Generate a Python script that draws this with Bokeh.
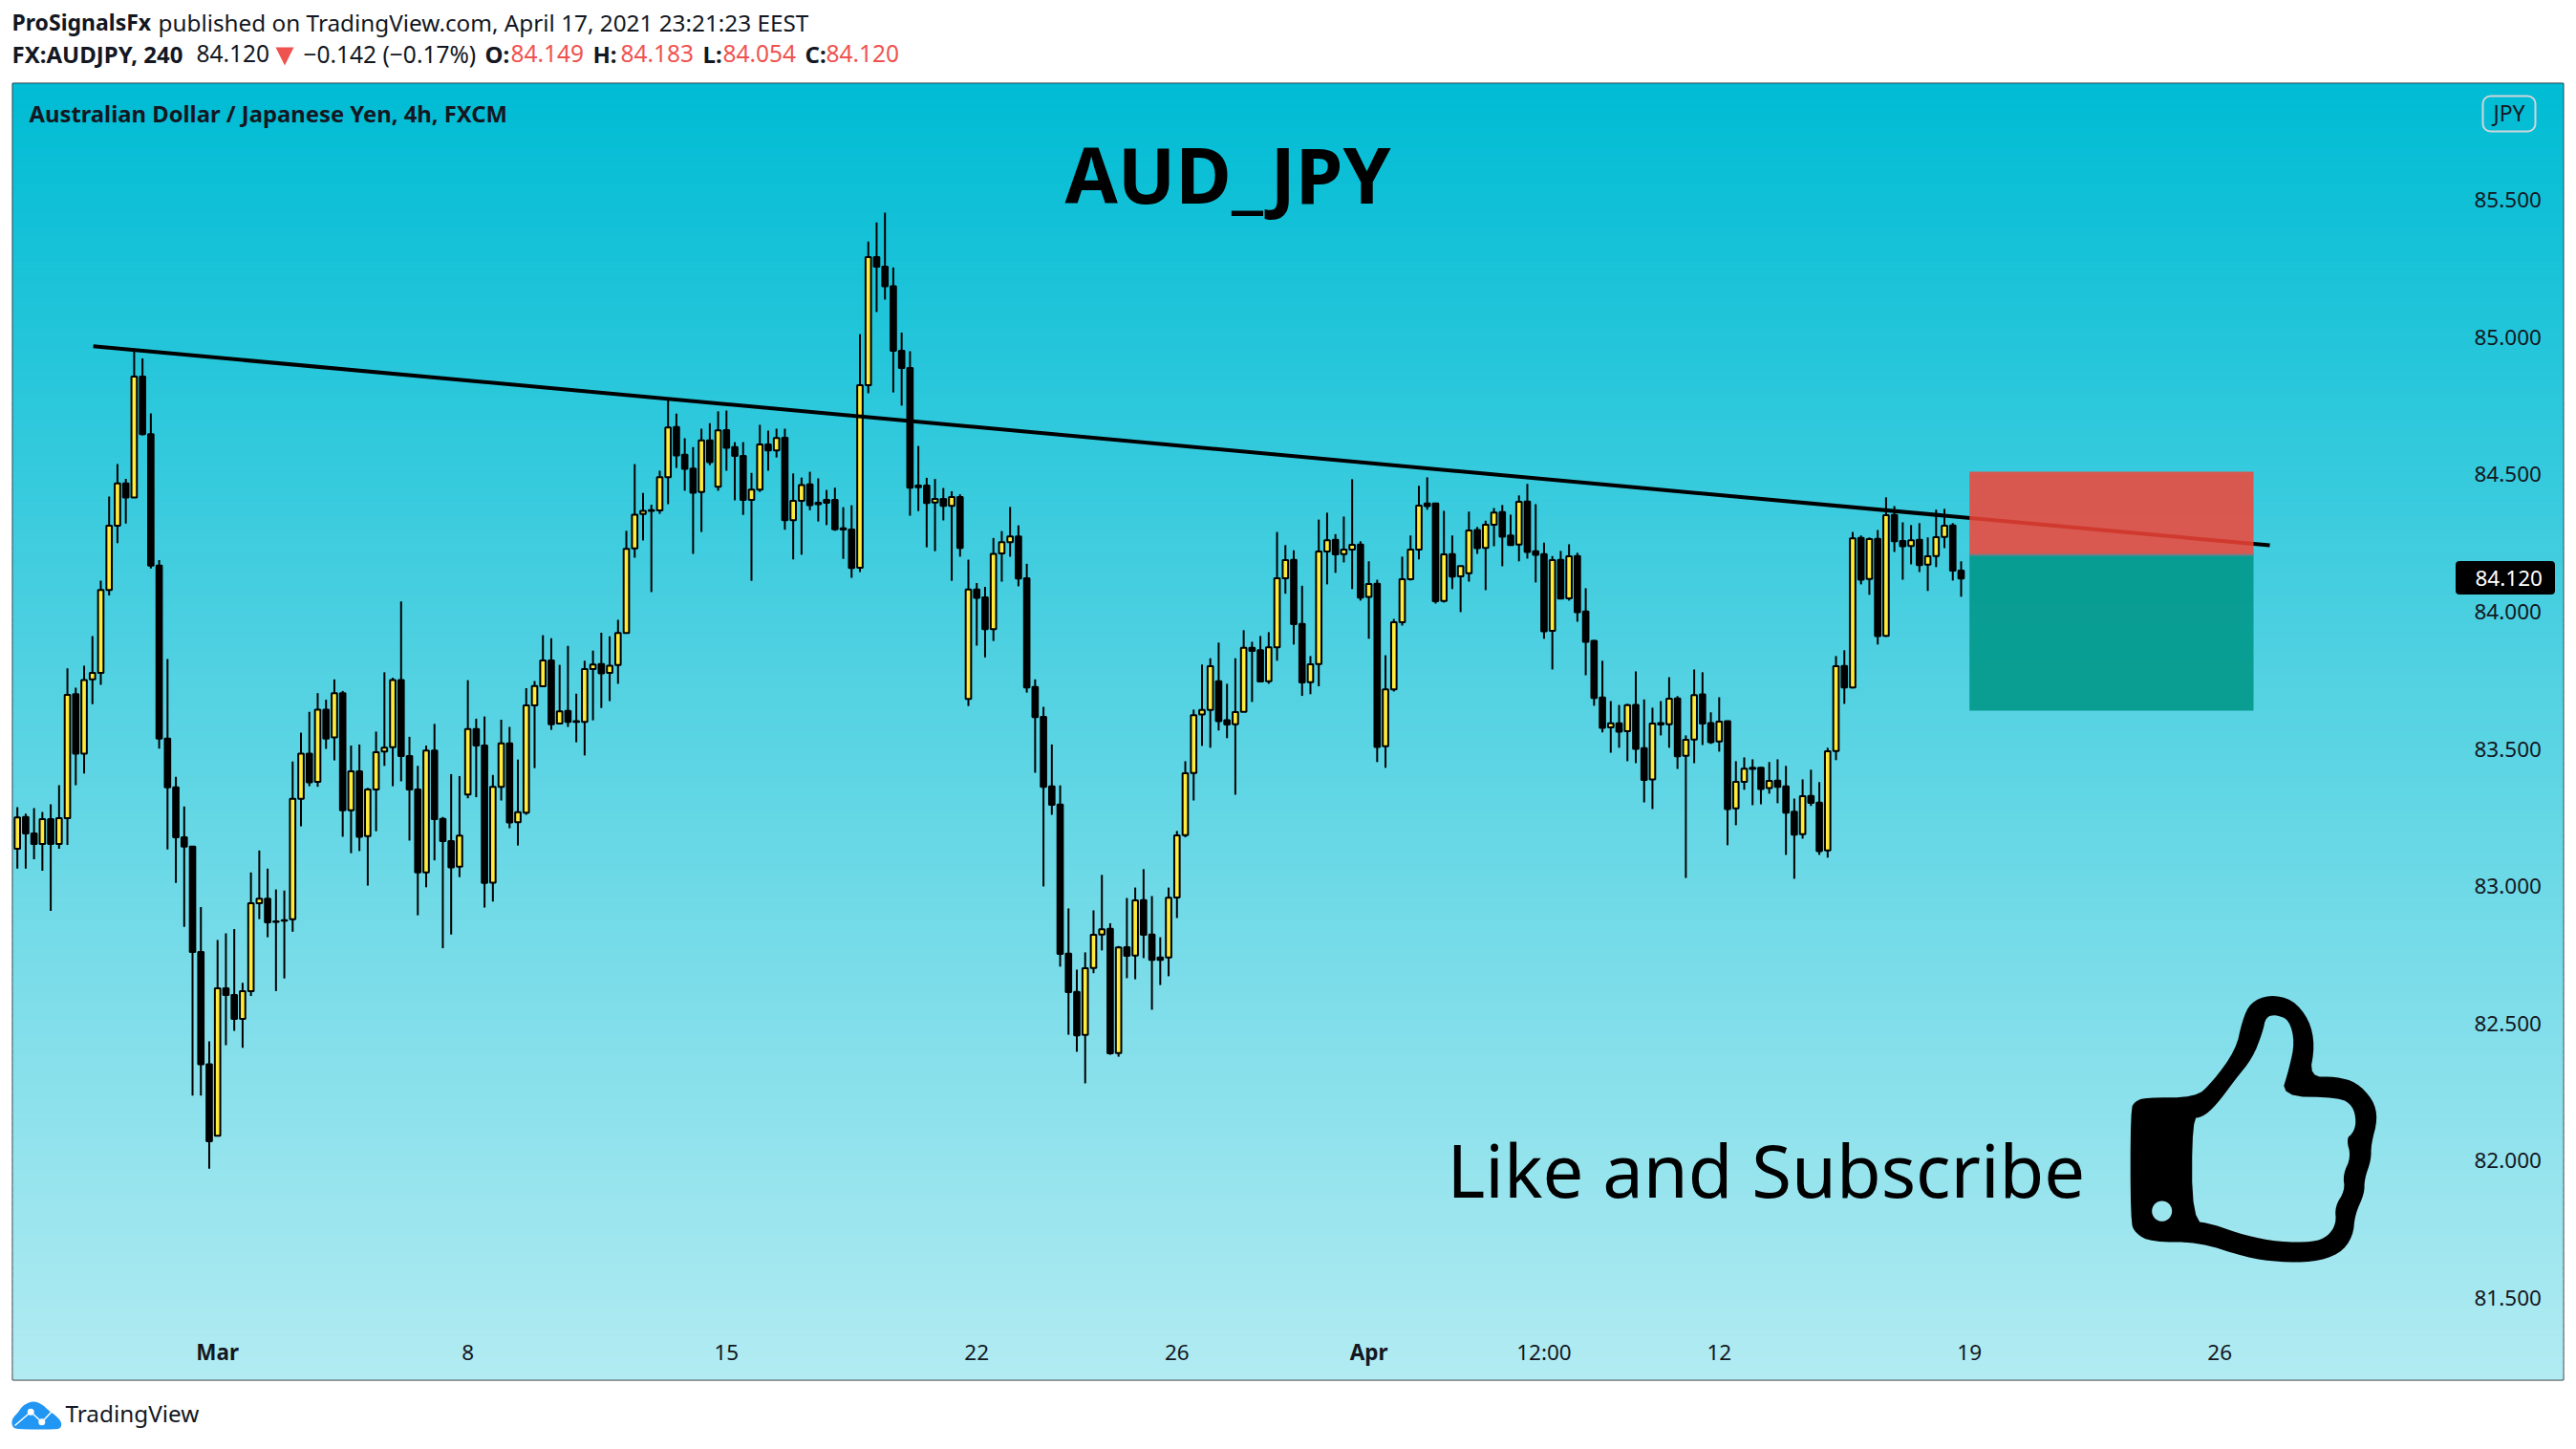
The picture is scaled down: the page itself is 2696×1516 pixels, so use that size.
from bokeh.plotting import figure
from bokeh.layouts import column
from bokeh.embed import file_html
from bokeh.resources import INLINE
from bokeh.models import Label, FixedTicker, LinearAxis, BoxAnnotation, NumeralTickFormatter
import numpy as np

open_ = [
83.136,83.252,83.192,83.154,83.244,83.154,83.248,83.699,83.483,83.753,
83.777,84.079,84.313,84.467,84.415,84.856,84.646,84.167,83.537,83.360,
83.178,83.144,82.760,82.351,82.091,82.628,82.604,82.517,82.618,82.938,
82.954,82.872,82.876,82.880,83.318,83.483,83.380,83.643,83.542,83.703,
83.276,83.418,83.182,83.352,83.490,83.506,83.751,83.474,83.352,83.050,
83.494,83.245,83.164,83.071,83.334,83.572,83.512,83.013,83.362,83.520,
83.233,83.268,83.658,83.728,83.822,83.592,83.638,83.601,83.598,83.791,
83.809,83.777,83.805,83.922,84.230,84.355,84.369,84.368,84.489,84.672,
84.571,84.521,84.435,84.623,84.455,84.661,84.599,84.567,84.407,84.444,
84.609,84.587,84.633,84.333,84.403,84.463,84.396,84.407,84.407,84.303,
84.299,84.160,84.824,85.291,85.256,85.185,84.950,84.887,84.459,84.459,
84.397,84.410,84.385,84.417,83.682,84.080,84.052,83.936,84.212,84.253,
84.274,84.121,83.725,83.617,83.363,83.297,82.754,82.615,82.458,82.702,
82.824,82.845,82.392,82.778,82.747,82.949,82.824,82.740,82.740,82.959,
83.186,83.412,83.625,83.642,83.746,83.604,83.590,83.635,83.868,83.859,
83.746,83.870,84.121,84.188,83.955,83.743,83.809,84.219,84.261,84.209,
84.226,84.244,84.053,84.101,83.510,83.717,83.961,84.118,84.226,84.394,
84.394,84.039,84.209,84.128,84.140,84.297,84.232,84.316,84.362,84.277,
84.244,84.401,84.220,84.209,83.930,84.188,84.048,84.202,84.000,83.893,
83.687,83.578,83.593,83.564,83.660,83.503,83.389,83.594,83.590,83.684,
83.475,83.534,83.698,83.594,83.527,83.601,83.283,83.380,83.431,83.431,
83.357,83.384,83.363,83.271,83.189,83.329,83.304,83.130,83.492,83.802,
83.724,84.268,84.119,84.265,83.912,84.352,84.257,84.239,84.261,84.171,
84.202,84.272,84.314,84.149]

close = [
83.250,83.192,83.154,83.244,83.154,83.248,83.697,83.483,83.751,83.777,
84.079,84.313,84.467,84.415,84.856,84.646,84.167,83.537,83.360,83.178,
83.144,82.760,82.351,82.071,82.628,82.604,82.517,82.618,82.938,82.954,
82.868,82.870,82.874,83.318,83.483,83.378,83.643,83.537,83.703,83.276,
83.418,83.180,83.352,83.488,83.504,83.751,83.474,83.352,83.050,83.494,
83.244,83.164,83.068,83.184,83.572,83.512,83.012,83.362,83.520,83.232,
83.269,83.658,83.729,83.822,83.590,83.637,83.598,83.598,83.791,83.807,
83.775,83.803,83.922,84.228,84.353,84.367,84.367,84.489,84.670,84.569,
84.520,84.433,84.623,84.544,84.660,84.596,84.567,84.407,84.444,84.609,
84.587,84.632,84.333,84.403,84.461,84.388,84.391,84.396,84.300,84.299,
84.159,84.824,85.291,85.256,85.185,84.950,84.887,84.451,84.453,84.395,
84.410,84.385,84.417,84.232,84.080,84.050,83.936,84.210,84.253,84.274,
84.120,83.724,83.616,83.362,83.296,82.753,82.614,82.457,82.701,82.823,
82.843,82.391,82.777,82.746,82.948,82.823,82.732,82.732,82.958,83.185,
83.411,83.623,83.642,83.801,83.601,83.589,83.634,83.868,83.857,83.745,
83.870,84.121,84.187,83.954,83.742,83.808,84.219,84.260,84.208,84.226,
84.243,84.051,84.100,83.507,83.717,83.961,84.118,84.226,84.386,84.384,
84.038,84.208,84.127,84.166,84.295,84.231,84.316,84.361,84.273,84.242,
84.400,84.217,84.207,83.928,84.187,84.047,84.201,83.998,83.890,83.685,
83.577,83.593,83.563,83.659,83.500,83.387,83.592,83.589,83.683,83.473,
83.533,83.696,83.592,83.524,83.599,83.281,83.380,83.428,83.427,83.354,
83.383,83.362,83.268,83.188,83.328,83.303,83.128,83.491,83.801,83.724,
84.267,84.116,84.264,83.911,84.351,84.256,84.238,84.260,84.169,84.201,
84.271,84.313,84.149,84.120]

high = [
83.288,83.264,83.284,83.270,83.298,83.368,83.793,83.723,83.803,83.911,
84.113,84.419,84.537,84.483,84.952,84.922,84.722,84.187,83.827,83.398,
83.290,83.144,82.924,82.435,82.804,82.828,82.844,82.648,83.050,83.130,
83.064,82.988,82.984,83.454,83.559,83.635,83.703,83.679,83.753,83.711,
83.512,83.516,83.358,83.563,83.779,83.759,84.037,83.544,83.438,83.512,
83.591,83.252,83.408,83.401,83.750,83.610,83.618,83.405,83.606,83.580,
83.461,83.721,83.747,83.914,83.903,83.806,83.875,83.701,83.821,83.858,
83.923,83.910,83.970,84.294,84.537,84.432,84.389,84.513,84.773,84.721,
84.631,84.599,84.666,84.686,84.729,84.732,84.617,84.617,84.505,84.680,
84.659,84.666,84.666,84.503,84.488,84.509,84.485,84.443,84.451,84.380,
84.387,85.010,85.347,85.417,85.453,85.253,85.016,84.948,84.603,84.487,
84.483,84.450,84.438,84.427,84.189,84.104,84.090,84.268,84.293,84.381,
84.314,84.174,83.753,83.653,83.516,83.367,82.919,82.696,82.759,82.912,
83.041,82.865,82.782,82.957,82.995,83.062,82.964,82.814,82.995,83.201,
83.455,83.643,83.807,83.830,83.887,83.737,83.830,83.932,83.890,83.911,
83.925,84.290,84.242,84.223,84.094,83.838,84.335,84.360,84.282,84.346,
84.482,84.256,84.183,84.116,83.841,83.973,84.200,84.277,84.458,84.489,
84.394,84.367,84.277,84.166,84.364,84.308,84.331,84.377,84.388,84.353,
84.423,84.465,84.391,84.251,84.202,84.221,84.245,84.214,84.085,83.897,
83.821,83.674,83.660,83.664,83.782,83.680,83.650,83.674,83.761,83.692,
83.549,83.789,83.779,83.633,83.688,83.601,83.455,83.469,83.462,83.434,
83.452,83.462,83.438,83.319,83.389,83.424,83.379,83.504,83.838,83.859,
84.290,84.277,84.270,84.297,84.416,84.384,84.325,84.315,84.322,84.270,
84.371,84.374,84.322,84.183]

low = [
83.064,83.064,83.098,83.056,82.910,83.136,83.150,83.368,83.410,83.663,
83.733,84.059,84.249,84.321,84.415,84.642,84.157,83.501,83.134,83.012,
82.852,82.237,82.237,81.971,82.091,82.421,82.473,82.411,82.600,82.880,
82.814,82.618,82.664,82.834,83.218,83.364,83.362,83.500,83.458,83.180,
83.120,83.128,83.002,83.200,83.438,83.364,83.382,83.166,82.894,82.996,
83.094,82.774,82.824,83.033,83.320,83.324,82.922,82.944,83.312,83.211,
83.148,83.260,83.430,83.728,83.569,83.592,83.580,83.524,83.476,83.604,
83.649,83.674,83.737,83.922,84.196,84.259,84.071,84.356,84.391,84.523,
84.440,84.210,84.290,84.533,84.440,84.513,84.405,84.352,84.112,84.436,
84.513,84.561,84.298,84.190,84.207,84.369,84.328,84.315,84.294,84.192,
84.123,84.144,84.795,85.091,85.136,84.798,84.750,84.349,84.366,84.234,
84.220,84.332,84.112,84.200,83.656,83.876,83.833,83.893,84.109,84.200,
84.092,83.705,83.413,82.999,83.260,82.707,82.459,82.397,82.282,82.683,
82.766,82.386,82.379,82.665,82.661,82.738,82.550,82.640,82.672,82.884,
83.178,83.312,83.511,83.504,83.567,83.539,83.333,83.635,83.671,83.745,
83.737,83.821,84.065,83.880,83.693,83.699,83.728,84.099,84.141,84.179,
84.082,84.040,83.901,83.452,83.431,83.709,83.949,84.113,84.190,84.371,
84.029,84.033,84.082,83.998,84.109,84.210,84.078,84.238,84.165,84.242,
84.183,84.193,84.106,83.901,83.789,84.047,84.040,83.963,83.768,83.657,
83.560,83.486,83.504,83.455,83.448,83.305,83.281,83.549,83.504,83.427,
83.030,83.448,83.514,83.518,83.490,83.149,83.222,83.351,83.295,83.298,
83.337,83.302,83.114,83.027,83.173,83.292,83.114,83.104,83.459,83.664,
83.720,84.099,84.061,83.880,83.908,84.217,84.116,84.172,84.144,84.075,
84.162,84.231,84.113,84.054]

price_ticks = [81.5, 82.0, 82.5, 83.0, 83.5, 84.0, 84.5, 85.0, 85.5]
plain_time_ticks = {54: "8", 85: "15", 115: "22", 139: "26", 183: "12:00", 204: "12", 234: "19", 264: "26"}
bold_time_ticks = {24: "Mar", 162: "Apr"}
trend_bar = [9.1, 270.0]
trend_price = [84.966, 84.241]
stop_zone = [84.509, 84.207]
target_zone = [84.207, 83.639]
zone_bars = [234.0, 268.05]
last_price = 84.120

FONT = "Noto Sans"
DARK = "#131722"
RED = "#EF5350"

W = 2690
L, R, T, B = 13, 2682, 87, 1443
H_TOTAL = 1510
BAR0, BARSTEP = 17.67, 8.731
Y845, YPP = 495.7, 287.3
def bx(px):  # page x pixel -> bar index
    return (px - BAR0) / BARSTEP
def py(px):  # page y pixel -> price
    return 84.5 - (px - Y845) / YPP

p = figure(frame_width=R - L, frame_height=B - T,
           x_range=(bx(L), bx(R)), y_range=(py(B), py(T)),
           output_backend="svg", toolbar_location=None,
           y_axis_location="right", frame_align=False,
           min_border_left=L, min_border_right=W - R,
           min_border_top=2, min_border_bottom=2,
           background_fill_color="#B2EBF2", border_fill_color="white",
           outline_line_color="#2A2E39", outline_line_width=2)
p.grid.visible = False

# gradient background
n = 180
edges = np.linspace(py(T), py(B), n + 1)
t = np.linspace(0, 1, n)
top_c, bot_c = np.array([0, 188, 212]), np.array([178, 235, 242])
cols = ["#%02x%02x%02x" % tuple(int(round(v)) for v in (top_c + (bot_c - top_c) * f)) for f in t]
p.quad(left=bx(L), right=bx(R), top=edges[:-1], bottom=edges[1:], fill_color=cols, line_color=cols, line_width=1)

# candles
idx = np.arange(len(open_))
o, c, h, l = map(np.array, (open_, close, high, low))
up = c >= o
p.segment(idx, h, idx, l, line_color="black", line_width=2)
p.vbar(idx[~up], 0.65, o[~up], c[~up], fill_color="black", line_color="black", line_width=2)
p.vbar(idx[up], 0.65, c[up], o[up], fill_color="#FFEB3B", line_color="black", line_width=2)

# trend line + zones
p.line(trend_bar, trend_price, line_color="black", line_width=4)
p.quad(left=zone_bars[0], right=zone_bars[1], top=stop_zone[0], bottom=stop_zone[1],
       fill_color="#F44336", fill_alpha=0.85, line_color=None)
p.quad(left=zone_bars[0], right=zone_bars[1], top=target_zone[0], bottom=target_zone[1],
       fill_color="#009688", fill_alpha=0.88, line_color=None)
p.segment(zone_bars[0], stop_zone[1], zone_bars[1], stop_zone[1], line_color="#787B86", line_width=2)

# axes drawn inside the pane
ya = p.yaxis[0]
ya.ticker = FixedTicker(ticks=price_ticks)
ya.formatter = NumeralTickFormatter(format="0.000")
ya.axis_line_color = None
ya.major_tick_line_color = None
ya.minor_tick_line_color = None
ya.major_label_standoff = -99
ya.major_label_text_font = FONT
ya.major_label_text_font_size = "22.5px"
ya.major_label_text_color = DARK

def style_x(ax, ticks, bold):
    ax.ticker = FixedTicker(ticks=list(ticks))
    ax.major_label_overrides = dict(ticks)
    ax.axis_line_color = None
    ax.major_tick_line_color = None
    ax.minor_tick_line_color = None
    ax.major_label_standoff = -51
    ax.major_label_text_font = FONT
    ax.major_label_text_font_size = "22.5px"
    ax.major_label_text_color = DARK
    ax.major_label_text_font_style = "bold" if bold else "normal"

style_x(p.xaxis[0], plain_time_ticks, False)
ax2 = LinearAxis()
style_x(ax2, bold_time_ticks, True)
p.add_layout(ax2, "below")

def label(fig, text, x, y, size, color=DARK, style="normal", align="left", baseline="middle", font=FONT):
    fig.add_layout(Label(x=x, y=y, text=text, text_font=font, text_font_size=f"{size}px",
                         text_color=color, text_font_style=style, text_align=align,
                         text_baseline=baseline))
def mlabel(text, x, y, size, **kw):
    label(p, text, bx(x), py(y), size, **kw)

mlabel("Australian Dollar / Japanese Yen, 4h, FXCM", 30, 118.5, 23.8, style="bold")
mlabel("AUD_JPY", 1114, 181, 80, color="black", style="bold")
mlabel("Like and Subscribe", 1514, 1223, 76, color="black")

# JPY badge
p.add_layout(BoxAnnotation(left=bx(2598), right=bx(2653), top=py(100), bottom=py(137), border_radius=8,
                           fill_alpha=0, line_color="#D1D4DC", line_alpha=1, line_width=2))
mlabel("JPY", 2625.5, 117, 23, align="center")

# last price tag
p.add_layout(BoxAnnotation(left=bx(2570), right=bx(2673), top=py(587), bottom=py(621), border_radius=3,
                           fill_color="black", fill_alpha=1, line_color="black", line_alpha=1))
p.segment(bx(2570), last_price, bx(2580), last_price, line_color="white", line_width=2, level="annotation")
mlabel("84.120", 2590, 604, 22.5, color="white")

def chaikin(pts, n=2):
    a = np.array(pts, float)
    for _ in range(n):
        b = np.roll(a, -1, axis=0)
        q = 0.75 * a + 0.25 * b
        r = 0.25 * a + 0.75 * b
        a = np.column_stack((q, r)).reshape(-1, 2)
    return a

# thumbs-up icon
thumb_outer = [(1090,443),(1165,443),(1190,395),(1225,295),(1235,200),(1247,145),(1275,120),(1310,135),
               (1335,200),(1343,280),(1335,378),(1375,378),(1405,395),(1430,450),(1437,510),(1427,590),
               (1427,640),(1417,700),(1417,745),(1403,810),(1400,880),(1380,935),(1340,960),(1290,960),
               (1240,945),(1170,897),(1100,897),(1075,870),(1068,830),(1068,480),(1075,455)]
thumb_inner = [(1160,508),(1175,505),(1195,470),(1225,385),(1250,320),(1265,240),(1270,190),(1285,183),
               (1305,200),(1313,270),(1305,350),(1292,440),(1380,443),(1400,470),(1405,520),(1400,555),
               (1390,572),(1397,630),(1385,685),(1388,735),(1373,785),(1375,840),(1362,880),(1340,897),
               (1290,897),(1240,877),(1190,840),(1160,830)]
def zx(a): return bx(1480 + a / 1.4255)
def zy(a): return py(1000 + a / 3)
o1 = chaikin(thumb_outer); i1 = chaikin(thumb_inner)
ang = np.linspace(0, 2 * np.pi, 32, endpoint=False)
dot_x = 1480 + 1115 / 1.4255 + 10.5 * np.cos(ang)
dot_y = 1000 + 800 / 3 + 10.7 * np.sin(ang)
p.multi_polygons(xs=[[[list(zx(o1[:, 0])), list(zx(i1[:, 0])), list(bx(dot_x))]]],
                 ys=[[[list(zy(o1[:, 1])), list(zy(i1[:, 1])), list(py(dot_y))]]],
                 fill_color="black", line_color=None)

def strip(h, y0):
    f = figure(width=W, height=h, x_range=(0, W), y_range=(y0 + h, y0),
               x_axis_location=None, y_axis_location=None, toolbar_location=None,
               output_backend="svg", min_border=0, outline_line_color=None, frame_align=False,
               background_fill_color="white", border_fill_color="white")
    f.grid.visible = False
    return f

# header strip
HH = T - 2
hdr = strip(HH, 0)
label(hdr, "ProSignalsFx", 12, 22.5, 23, style="bold")
label(hdr, "published on TradingView.com, April 17, 2021 23:21:23 EEST", 165, 22.5, 24.3)
label(hdr, "FX:AUDJPY, 240", 12, 55.5, 24, style="bold")
label(hdr, "84.120", 205, 55.5, 24.5)
hdr.patch([288, 307, 297.5], [49, 49, 68], fill_color=RED, line_color=None)
label(hdr, "\u22120.142 (\u22120.17%)", 317, 55.5, 24.5)
for name, val, x0, x1 in [("O:", "84.149", 507, 534), ("H:", "84.183", 620, 649),
                          ("L:", "84.054", 735, 756), ("C:", "84.120", 842, 864)]:
    label(hdr, name, x0, 55.5, 24, style="bold")
    label(hdr, val, x1, 55.5, 24.5, color=RED)

# footer strip
F0 = B + 2
ftr = strip(H_TOTAL - F0, F0)
cloud = [(36,335),(36,312),(55,292),(70,270),(100,255),(130,265),(150,285),(172,300),(192,322),(190,340),(175,345),(50,345)]
cl = chaikin(cloud)
ftr.patch(cl[:, 0] / 3, 1380 + cl[:, 1] / 3, fill_color="#2196F3", line_color=None)
ftr.line([15, 31.7, 43.3, 55], [1491, 1476.7, 1487.3, 1475], line_color="white", line_width=1.5)
ftr.scatter([31.7, 43.3], [1476.7, 1487.3], size=7, marker="circle", fill_color="white", line_color=None)
label(ftr, "TradingView", 68, 1478, 24.3)

page = column(hdr, p, ftr, spacing=0)
open("out.html", "w").write(file_html(page, INLINE))
